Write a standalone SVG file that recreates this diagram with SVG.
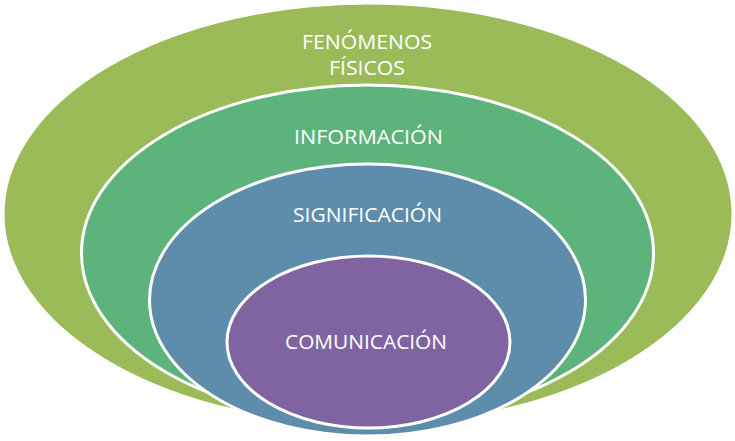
<svg xmlns="http://www.w3.org/2000/svg" width="735" height="441" viewBox="0 0 735 441">
<style>
.e{stroke:#fff;stroke-width:3}
.t{font-family:"Open Sans","Liberation Sans",sans-serif;font-size:19.5px;fill:#fff;text-anchor:middle}
</style>
<rect width="735" height="441" fill="#fff"/>
<g id="fenomenos">
<ellipse class="e" cx="368" cy="214" rx="365" ry="211" fill="#9BBB59" stroke="none"/>
<text class="t" x="367" y="49" textLength="130" lengthAdjust="spacingAndGlyphs">FENÓMENOS</text>
<text class="t" x="367" y="75" textLength="76" lengthAdjust="spacingAndGlyphs">FÍSICOS</text>
</g>
<g id="informacion">
<ellipse class="e" cx="367.5" cy="253" rx="286" ry="168" fill="#5CB37C"/>
<text class="t" x="368.5" y="144" textLength="149" lengthAdjust="spacingAndGlyphs">INFORMACIÓN</text>
</g>
<g id="significacion">
<ellipse class="e" cx="367.5" cy="300" rx="218" ry="136" fill="#5E8CAB"/>
<text class="t" x="367.5" y="222" textLength="149" lengthAdjust="spacingAndGlyphs">SIGNIFICACIÓN</text>
</g>
<g id="comunicacion">
<ellipse class="e" cx="368.5" cy="342" rx="141.5" ry="86" fill="#8064A2"/>
<text class="t" x="366" y="349" textLength="162" lengthAdjust="spacingAndGlyphs">COMUNICACIÓN</text>
</g>
<g id="connectors"/>
</svg>
